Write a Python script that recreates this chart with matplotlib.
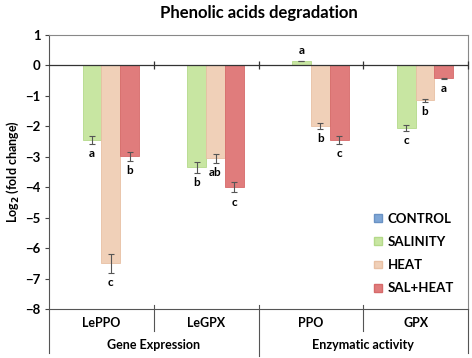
import numpy as np
import matplotlib.pyplot as plt
from matplotlib.lines import Line2D
from matplotlib.patches import Patch
from matplotlib.transforms import blended_transform_factory

plt.rcParams['font.family'] = ['Lato', 'DejaVu Sans']
plt.rcParams['font.weight'] = 'bold'

# dados
categorias = ['LePPO', 'LeGPX', 'PPO', 'GPX']
grupos = ['Gene Expression', 'Enzymatic activity']
series = ['CONTROL', 'SALINITY', 'HEAT', 'SAL+HEAT']
controle = [0, 0, 0, 0]
salinidade = [-2.45, -3.35, 0.15, -2.05]
calor = [-6.5, -3.05, -1.98, -1.15]
sal_calor = [-2.98, -4.0, -2.45, -0.42]
erro_sal = [0.12, 0.17, 0.01, 0.1]
erro_calor = [0.32, 0.15, 0.1, 0.05]
erro_salcalor = [0.15, 0.17, 0.12, 0.02]
letras_sal = ['a', 'b', 'a', 'c']
letras_calor = ['c', 'ab', 'b', 'b']
letras_salcalor = ['b', 'c', 'c', 'a']

cores = ['#7ea6d6', '#c8e6a2', '#f0d0b8', '#e07c7c']
bordas = ['#6a92c4', '#b4d98a', '#e8c0a4', '#d66a6a']

fig = plt.figure(figsize=(4.72, 3.58), dpi=100)
ax = fig.add_axes([49/472, 1 - 309/358, 419/472, 274/358])

x = np.arange(len(categorias))
largura = 0.18
desloc = [-0.27, -0.09, 0.09, 0.27]
valores = [controle, salinidade, calor, sal_calor]
erros = [None, erro_sal, erro_calor, erro_salcalor]
letras = [None, letras_sal, letras_calor, letras_salcalor]

for i in range(4):
    ax.bar(x + desloc[i], valores[i], largura, color=cores[i], edgecolor=bordas[i],
           linewidth=0.6, label=series[i], zorder=2)
    if erros[i] is None:
        continue
    ax.errorbar(x + desloc[i], valores[i], yerr=erros[i], fmt='none', ecolor='#555555',
                elinewidth=0.8, capsize=2, capthick=0.8, zorder=3)
    for j in range(4):
        v = valores[i][j]
        e = erros[i][j]
        if v >= 0:
            ax.annotate(letras[i][j], (x[j] + desloc[i], v + e), xytext=(0, 3),
                        textcoords='offset points', ha='center', va='bottom',
                        fontsize=8.5, fontweight='bold')
        else:
            ax.annotate(letras[i][j], (x[j] + desloc[i], v - e), xytext=(0, -3),
                        textcoords='offset points', ha='center', va='top',
                        fontsize=8.5, fontweight='bold')

ax.set_xlim(-0.5, 3.5)
ax.set_ylim(-8, 1)
ax.set_yticks(range(-8, 2))
ax.tick_params(axis='y', length=3, width=0.8, labelsize=9.5, pad=3, color='#444444')
ax.set_xticks([])
for s in ['top', 'right']:
    ax.spines[s].set_color('#888888')
    ax.spines[s].set_linewidth(0.8)
ax.spines['left'].set_color('#555555')
ax.spines['bottom'].set_color('#555555')

# linha do zero com marcas
ax.axhline(0, color='#333333', linewidth=0.9, zorder=4)
ax.vlines([0.5, 1.5, 2.5, 3.5], -0.13, 0.13, color='#333333', linewidth=0.9, zorder=4, clip_on=False)

# rotulos do eixo x em dois niveis
trans = blended_transform_factory(ax.transData, ax.transAxes)
for j, c in enumerate(categorias):
    ax.text(j, -0.05, c, transform=trans, ha='center', va='center', fontsize=9, fontweight='bold')
for k, g in enumerate(grupos):
    ax.text(0.5 + 2 * k, -0.13, g, transform=trans, ha='center', va='center', fontsize=9, fontweight='bold')
for xs, y0 in [(-0.5, -0.16), (0.5, -0.08), (1.5, -0.17), (2.5, -0.08), (3.5, -0.16)]:
    ax.add_line(Line2D([xs, xs], [0.015 if xs in (0.5, 2.5, 1.5) else 0, y0], transform=trans,
                       color='#555555', linewidth=0.8, clip_on=False))

ax.set_ylabel('Log$_\\mathbf{2}$ (fold change)', fontsize=9, fontweight='bold', labelpad=3)
ax.set_title('Phenolic acids degradation', fontsize=12, fontweight='bold', pad=12)

alcas = [Patch(facecolor=cores[i], edgecolor=bordas[i], label=series[i]) for i in range(4)]
ax.legend(handles=alcas, loc='lower right', bbox_to_anchor=(0.995, 0.01), frameon=False,
          fontsize=9.5, handlelength=0.55, handleheight=0.55, handletextpad=0.45, labelspacing=0.85)

plt.savefig('out.png', dpi=100)
